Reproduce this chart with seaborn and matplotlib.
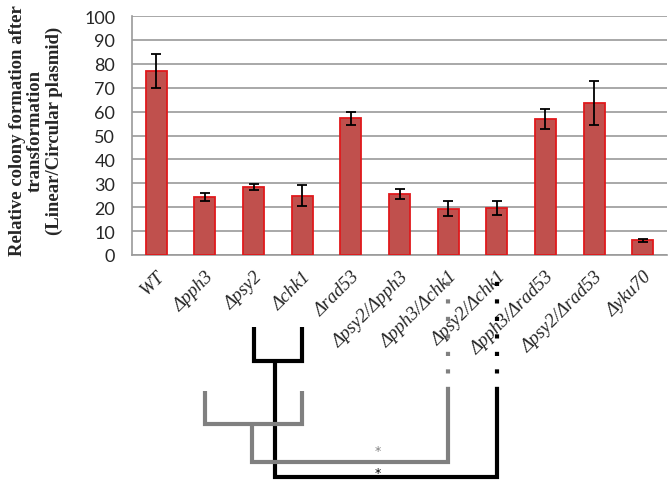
import matplotlib
matplotlib.use('Agg')
import matplotlib.pyplot as plt
import seaborn as sns

# strains and relative colony formation (%), with error bars
strains = ['WT', 'Δpph3', 'Δpsy2', 'Δchk1', 'Δrad53', 'Δpsy2/Δpph3', 'Δpph3/Δchk1',
           'Δpsy2/Δchk1', 'Δpph3/Δrad53', 'Δpsy2/Δrad53', 'Δyku70']
colony = [77.1, 24.3, 28.6, 24.8, 57.2, 25.4, 19.4, 19.8, 56.8, 63.5, 6.1]
errors = [7.1, 1.6, 1.2, 4.5, 2.6, 2.1, 3.1, 3.0, 4.1, 9.3, 0.5]

# comparison brackets: (group a, group b, compared with)
compare_black = ('Δpsy2', 'Δchk1', 'Δpsy2/Δchk1')
compare_gray = ('Δpph3', 'Δchk1', 'Δpph3/Δchk1')

sns.set_style('white')
plt.rcParams['font.family'] = ['Lato', 'DejaVu Sans']

fig = plt.figure(figsize=(6.72, 4.89), dpi=100)
ax = fig.add_axes([0.1964, 0.4765, 0.7962, 0.4887])

sns.barplot(x=strains, y=colony, color='#C0504D', width=0.43, errorbar=None,
            edgecolor='#E0191C', linewidth=1.3, saturation=1, ax=ax, zorder=3)
ax.errorbar(range(len(strains)), colony, yerr=errors, fmt='none', ecolor='black',
            elinewidth=1.3, capsize=3.5, capthick=1.3, zorder=4)

ax.set_ylim(0, 100)
ax.set_xlim(-0.5, len(strains) - 0.5)
ax.set_yticks(range(0, 101, 10))
ax.yaxis.grid(True, color='#9A9A9A', linewidth=1.2, zorder=0)
ax.set_axisbelow(True)
for side in ['top', 'right']:
    ax.spines[side].set_visible(False)
for side in ['left', 'bottom']:
    ax.spines[side].set_color('#9A9A9A')
    ax.spines[side].set_linewidth(1.2)
ax.tick_params(axis='y', labelsize=13, length=0, pad=12)
ax.tick_params(axis='x', length=0, pad=9)
ax.set_xticks(range(len(strains)))
ax.set_xticklabels(strains, rotation=45, ha='right', rotation_mode='anchor',
                   family='Liberation Serif', style='italic', fontsize=13.5)
ax.set_xlabel('')

fig.text(0.053, 0.732, 'Relative colony formation after\ntransformation\n(Linear/Circular plasmid)',
         rotation=90, ha='center', va='center', multialignment='center',
         family='Liberation Serif', fontweight='bold', fontsize=13.5, linespacing=1.1)

pos = {s: i for i, s in enumerate(strains)}
lw = 3.0
dots = (0, (1, 3.2))


def bracket(comp, top, mid, low, stem_x, dot_top, colour, z):
    a, b, c = pos[comp[0]], pos[comp[1]], pos[comp[2]]
    kw = dict(color=colour, lw=lw, clip_on=False, zorder=z, solid_capstyle='butt')
    ax.plot([a, a, b, b], [top, mid, mid, top], solid_joinstyle='miter', **kw)
    ax.plot([stem_x, stem_x, c, c], [mid, low, low, -56.8], solid_joinstyle='miter', **kw)
    ax.plot([c, c], [-56.8, dot_top], linestyle=dots, dash_capstyle='butt',
            color=colour, lw=lw, clip_on=False, zorder=z)


bracket(compare_black, -30.1, -44.4, -93.0, 2.44, -7.0, 'black', 5)
bracket(compare_gray, -56.8, -70.7, -86.6, 1.96, -10.8, '#808080', 6)

ax.text(4.55, -82.0, '*', color='#808080', fontsize=9, ha='center', va='center',
        family='DejaVu Sans', clip_on=False)
ax.text(4.55, -91.0, '*', color='black', fontsize=9, ha='center', va='center',
        family='DejaVu Sans', clip_on=False)

fig.savefig('out.png', dpi=100)
